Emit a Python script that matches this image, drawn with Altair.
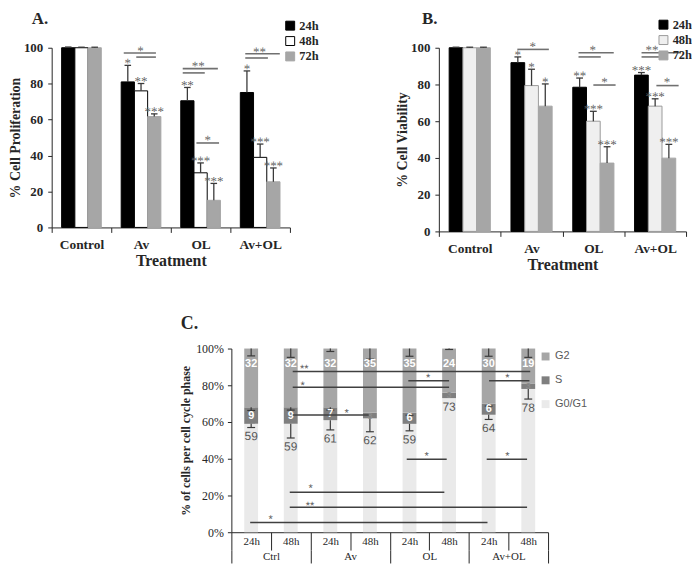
import json
import altair as alt
import pandas as pd

SERIF = "Liberation Serif"
SANS = "Liberation Sans"
INK = "#262626"

# ---------------- Panels A and B ----------------
groups = ["Control", "Av", "OL", "Av+OL"]
times = ["24h", "48h", "72h"]

prolif_mean = [100, 100, 100, 81.0, 76.0, 61.7, 70.5, 30.4, 15.1, 75.1, 39.0, 25.4]
prolif_err = [0.4, 0.3, 0.3, 9.2, 4.1, 1.5, 7.4, 5.5, 9.4, 12.0, 7.4, 7.7]
prolif_stars = ["", "", "", "*", "**", "***", "**", "***", "***", "*", "***", "***"]
prolif_line_x1 = [0.71, 0.92, 1.70, 1.70, 1.93, 2.75, 2.75]
prolif_line_x2 = [1.25, 1.25, 2.29, 2.07, 2.31, 3.33, 3.13]
prolif_line_y = [97.1, 94.8, 88.4, 86.0, 47.0, 96.7, 94.3]
prolif_sig_x = [0.99, 1.96, 2.12, 2.99]
prolif_sig_y = [100.0, 91.5, 50.3, 99.4]
prolif_sig_text = ["*", "**", "*", "**"]

viab_mean = [100, 100, 100, 91.9, 79.4, 68.2, 78.5, 60.0, 37.2, 85.1, 68.2, 39.9]
viab_err = [0.3, 0.3, 0.3, 3.1, 8.9, 12.1, 5.0, 5.4, 8.9, 1.4, 4.0, 7.5]
viab_stars = ["", "", "", "*", "*", "*", "**", "***", "***", "***", "***", "***"]
viab_line_x1 = [0.77, 1.76, 1.76, 2.00, 2.78, 2.78, 3.02]
viab_line_x2 = [1.28, 2.33, 2.12, 2.36, 3.42, 3.17, 3.38]
viab_line_y = [99.1, 97.3, 95.0, 79.7, 97.3, 95.0, 79.4]
viab_sig_x = [1.02, 1.99, 2.18, 2.95, 3.19]
viab_sig_y = [102.3, 100.4, 82.9, 100.4, 82.9]
viab_sig_text = ["*", "*", "*", "**", "*"]

# ---------------- Panel C ----------------
cc_groups = ["Ctrl", "Av", "OL", "Av+OL"]
cc_times = ["24h", "48h"]
phases = ["G0/G1", "S", "G2"]
g0g1_pct = [59, 59, 61, 62, 59, 73, 64, 78]
s_pct = [9, 9, 7, 3, 6, 3, 6, 3]
g2_pct = [32, 32, 32, 35, 35, 24, 30, 19]
g0g1_err = [2.0, 7.7, 5.3, 7.3, 3.8, 0.0, 2.6, 5.5]
s_err = [1.7, 1.5, 1.5, 0.0, 1.3, 0.0, 1.3, 0.0]
g2_err = [4.0, 4.8, 1.6, 5.8, 4.2, 0.5, 4.2, 4.8]
cc_line_x1 = [1.05, 1.05, 3.97, 6.01, 1.05, 3.93, 5.95, 0.975, 0.975, -0.025]
cc_line_x2 = [7.05, 5.00, 5.00, 7.03, 2.97, 4.94, 6.97, 4.88, 6.97, 5.97]
cc_line_y = [87.5, 78.9, 82.5, 82.5, 63.8, 39.7, 39.7, 21.7, 13.6, 5.3]
cc_sig_x = [1.34, 1.30, 4.47, 6.47, 2.41, 4.43, 6.47, 1.50, 1.49, 0.49]
cc_sig_y = [90.5, 81.3, 85.5, 85.5, 66.3, 42.9, 42.9, 25.4, 15.9, 8.5]
cc_sig_text = ["**", "*", "*", "*", "*", "*", "*", "*", "**", "*"]

Y_TICKS = [0, 20, 40, 60, 80, 100]
STAR = "#5e5e5e"
TILT = 0.2  # a hair of rotation gives greyscale text smoothing


def bar_panel(values, errs, stars, fills, strokes, lx1, lx2, ly, sx, sy, st,
              ytitle, title, width, height, legend_x, legend_y, title_dx, title_off):
    df = pd.DataFrame({
        "group": [g for g in groups for _ in times],
        "time": [t for _ in groups for t in times],
        "gi": [i for i in range(len(groups)) for _ in times],
        "ti": [j for _ in groups for j in range(len(times))],
        "value": values, "err": errs, "star": stars,
    })
    xscale = alt.Scale(domain=[-0.5, len(groups) - 0.5], nice=False, zero=False)
    yscale = alt.Scale(domain=[0, 100], nice=False)
    label_expr = "datum.value < 0 ? '' : %s[round(datum.value - 0.5)]" % json.dumps(groups)
    xvals = [i - 0.5 for i in range(len(groups) + 1)]
    xaxis = alt.Axis(values=xvals, tickCount=len(xvals), labelExpr=label_expr,
                     labelOffset=-width / 8, labelFlush=False, labelOverlap=False,
                     title="Treatment", titleFont=SERIF, titleFontSize=16,
                     titleFontWeight="bold", titleColor=INK, titlePadding=2,
                     labelFont=SERIF, labelFontSize=13.5, labelFontWeight="bold",
                     labelColor=INK, labelPadding=5, tickSize=5, tickColor=INK,
                     domainColor=INK, grid=False)
    yaxis = alt.Axis(values=Y_TICKS, tickCount=len(Y_TICKS), title=ytitle,
                     titleFont=SERIF, titleFontSize=14, titleFontWeight="bold",
                     titleColor=INK, titlePadding=1, labelFont=SERIF,
                     labelFontSize=13, labelFontWeight="bold", labelColor=INK,
                     labelPadding=5, tickSize=4, tickColor=INK, domainColor=INK,
                     labelOverlap=False, grid=False)
    legend = alt.Legend(title=None, orient="none", legendX=legend_x, legendY=legend_y,
                        direction="vertical", symbolType="square", symbolSize=81,
                        symbolStrokeWidth=1, labelFont=SERIF, labelFontSize=12.5,
                        labelFontWeight="bold", labelColor=INK, rowPadding=1.5,
                        padding=0, labelOffset=3)
    base = alt.Chart(df).transform_calculate(
        pos="datum.gi + (datum.ti - 1) * 0.222"
    ).transform_calculate(
        left="datum.pos - 0.111", right="datum.pos + 0.111",
        top="datum.value + datum.err",
        capl="datum.pos - 0.055", capr="datum.pos + 0.055",
    )
    bars = base.mark_bar(strokeWidth=1, clip=False).encode(
        x=alt.X("left:Q", scale=xscale, axis=xaxis),
        x2="right:Q",
        y=alt.Y("value:Q", scale=yscale, axis=yaxis),
        y2=alt.datum(0),
        fill=alt.Fill("time:N", scale=alt.Scale(domain=times, range=fills), legend=legend),
        stroke=alt.Stroke("time:N", scale=alt.Scale(domain=times, range=strokes), legend=legend),
    )
    stem = base.mark_rule(color="#3a3a3a", strokeWidth=1.3, clip=False).encode(
        x=alt.X("pos:Q", scale=xscale), y=alt.Y("value:Q", scale=yscale), y2="top:Q")
    cap = base.mark_rule(color="#3a3a3a", strokeWidth=1.3, clip=False).encode(
        x=alt.X("capl:Q", scale=xscale), x2="capr:Q", y=alt.Y("top:Q", scale=yscale))
    startxt = base.mark_text(font=SERIF, fontSize=13, color=STAR, angle=TILT,
                             baseline="middle", dy=-2, clip=False).encode(
        x=alt.X("pos:Q", scale=xscale), y=alt.Y("top:Q", scale=yscale), text="star:N")
    ldf = pd.DataFrame({"x1": lx1, "x2": lx2, "y": ly})
    lines = alt.Chart(ldf).mark_rule(color="#707070", strokeWidth=1.6, clip=False).encode(
        x=alt.X("x1:Q", scale=xscale), x2="x2:Q", y=alt.Y("y:Q", scale=yscale))
    sdf = pd.DataFrame({"x": sx, "y": sy, "t": st})
    sigs = alt.Chart(sdf).mark_text(font=SERIF, fontSize=13, color=STAR, angle=TILT,
                                    baseline="middle", dy=3.2, clip=False).encode(
        x=alt.X("x:Q", scale=xscale), y=alt.Y("y:Q", scale=yscale), text="t:N")
    return alt.layer(bars, stem, cap, startxt, lines, sigs).properties(
        width=width, height=height,
        title=alt.TitleParams(title, anchor="start", frame="group", font=SERIF,
                              fontSize=17, fontWeight="bold", color=INK,
                              dx=title_dx, offset=title_off))


panel_a = bar_panel(prolif_mean, prolif_err, prolif_stars,
                    ["#000000", "#ffffff", "#a6a6a6"], ["#000000", "#000000", "#a6a6a6"],
                    prolif_line_x1, prolif_line_x2, prolif_line_y,
                    prolif_sig_x, prolif_sig_y, prolif_sig_text,
                    "% Cell Proliferation", "A.", 240, 181, 234, -28.5, -20, -8.5)
panel_b = bar_panel(viab_mean, viab_err, viab_stars,
                    ["#000000", "#efefef", "#a6a6a6"], ["#000000", "#9a9a9a", "#a6a6a6"],
                    viab_line_x1, viab_line_x2, viab_line_y,
                    viab_sig_x, viab_sig_y, viab_sig_text,
                    "% Cell Viability", "B.", 249, 185, 220, -29.5, -17, -9.5)

# ---------------- Panel C chart ----------------
rows = []
for i in range(len(g0g1_pct)):
    vals = [g0g1_pct[i], s_pct[i], g2_pct[i]]
    errs = [g0g1_err[i], s_err[i], g2_err[i]]
    for p, (ph, v, e) in enumerate(zip(phases, vals, errs)):
        rows.append({"bi": i, "group": cc_groups[i // 2], "time": cc_times[i % 2],
                     "phase": ph, "po": p, "value": v, "err": e})
cdf = pd.DataFrame(rows)

CW, CH = 319, 185
nbar = len(g0g1_pct)
cx = alt.Scale(domain=[-0.5, nbar - 0.5], nice=False, zero=False)
cy = alt.Scale(domain=[0, 100], nice=False)
time_expr = "datum.value < 0 ? '' : %s[round(datum.value - 0.5) %% 2]" % json.dumps(cc_times)
cxvals = [i - 0.5 for i in range(nbar + 1)]
cx_axis = alt.Axis(values=cxvals, tickCount=len(cxvals), labelExpr=time_expr,
                   labelOffset=-CW / nbar / 2, labelFlush=False, labelOverlap=False,
                   labelBaseline="middle", labelPadding=-9, tickSize=18,
                   tickColor=INK, domainColor=INK, labelFont=SERIF, labelFontSize=11,
                   labelColor=INK, title=None, grid=False)
cy_axis = alt.Axis(values=Y_TICKS, tickCount=len(Y_TICKS), labelExpr="datum.value + '%'",
                   title="% of cells per cell cycle phase", titleFont=SERIF,
                   titleFontSize=12, titleFontWeight="bold", titleColor=INK,
                   titlePadding=3, labelFont=SERIF, labelFontSize=12, labelColor=INK,
                   labelPadding=4, tickSize=4, tickColor=INK, domainColor=INK,
                   labelOverlap=False, grid=False)
c_legend = alt.Legend(title=None, orient="none", legendX=311, legendY=2.5,
                      direction="vertical", symbolType="square", symbolSize=64,
                      symbolStrokeWidth=0, labelFont=SANS, labelFontSize=11,
                      labelColor="#595959", rowPadding=12, padding=0, labelOffset=4)

cbase = alt.Chart(cdf).transform_stack(
    stack="value", groupby=["bi"], as_=["y0", "y1"],
    sort=[alt.SortField("po", order="ascending")]
).transform_calculate(
    left="datum.bi - 0.175", right="datum.bi + 0.175",
    mid="(datum.y0 + datum.y1) / 2", errb="datum.y1 - datum.err",
    capl="datum.bi - 0.1", capr="datum.bi + 0.1",
    g2lab="datum.y1 - 8.5", g0lab="datum.y1 - datum.err - 4.7",
)
cbars = cbase.mark_bar(clip=False).encode(
    x=alt.X("left:Q", scale=cx, axis=cx_axis), x2="right:Q",
    y=alt.Y("y0:Q", scale=cy, axis=cy_axis), y2="y1:Q",
    fill=alt.Fill("phase:N", scale=alt.Scale(domain=["G2", "S", "G0/G1"],
                                             range=["#a6a6a6", "#7f7f7f", "#eaeaea"]),
                  legend=c_legend),
)
cerr = cbase.transform_filter("datum.err > 0")
cstem = cerr.mark_rule(color="#3a3a3a", strokeWidth=1.2, clip=False).encode(
    x=alt.X("bi:Q", scale=cx), y=alt.Y("y1:Q", scale=cy), y2="errb:Q")
ccap = cerr.mark_rule(color="#3a3a3a", strokeWidth=1.2, clip=False).encode(
    x=alt.X("capl:Q", scale=cx), x2="capr:Q", y=alt.Y("errb:Q", scale=cy))
g2_text = cbase.transform_filter("datum.phase == 'G2'").mark_text(
    font=SANS, fontSize=11, fontWeight="bold", color="#ffffff", baseline="middle").encode(
    x=alt.X("bi:Q", scale=cx), y=alt.Y("g2lab:Q", scale=cy), text=alt.Text("value:Q", format="d"))
s_text = cbase.transform_filter("datum.phase == 'S' && datum.value > 3").mark_text(
    font=SANS, fontSize=11, fontWeight="bold", color="#ffffff", baseline="middle").encode(
    x=alt.X("bi:Q", scale=cx), y=alt.Y("mid:Q", scale=cy), text=alt.Text("value:Q", format="d"))
s_small = cbase.transform_filter("datum.phase == 'S' && datum.value <= 3").mark_text(
    font=SANS, fontSize=9, fontWeight="bold", color="#8c8c8c", baseline="middle").encode(
    x=alt.X("bi:Q", scale=cx), y=alt.Y("mid:Q", scale=cy), text=alt.Text("value:Q", format="d"))
g0_text = cbase.transform_filter("datum.phase == 'G0/G1'").mark_text(
    font=SANS, fontSize=12, color="#595959", angle=TILT, baseline="middle").encode(
    x=alt.X("bi:Q", scale=cx), y=alt.Y("g0lab:Q", scale=cy), text=alt.Text("value:Q", format="d"))
cldf = pd.DataFrame({"x1": cc_line_x1, "x2": cc_line_x2, "y": cc_line_y})
clines = alt.Chart(cldf).mark_rule(color="#404040", strokeWidth=1.5, clip=False).encode(
    x=alt.X("x1:Q", scale=cx), x2="x2:Q", y=alt.Y("y:Q", scale=cy))
csdf = pd.DataFrame({"x": cc_sig_x, "y": cc_sig_y, "t": cc_sig_text})
csigs = alt.Chart(csdf).mark_text(font=SANS, fontSize=11, color="#595959", angle=TILT,
                                   baseline="middle", dy=3.2, clip=False).encode(
    x=alt.X("x:Q", scale=cx), y=alt.Y("y:Q", scale=cy), text="t:N")

c_main = alt.layer(cbars, cstem, ccap, g2_text, s_text, s_small, g0_text, clines, csigs)

group_expr = "datum.value < 0 ? '' : %s[round(datum.value - 0.5)]" % json.dumps(cc_groups)
gxvals = [i - 0.5 for i in range(len(cc_groups) + 1)]
gdf = pd.DataFrame({"gi": list(range(len(cc_groups))), "group": cc_groups})
c_groups = alt.Chart(gdf).mark_point(opacity=0).encode(
    x=alt.X("gi:Q", scale=alt.Scale(domain=[-0.5, len(cc_groups) - 0.5], nice=False, zero=False),
            axis=alt.Axis(orient="bottom", offset=18, values=gxvals, tickCount=len(gxvals),
                          labelExpr=group_expr, labelOffset=-CW / len(cc_groups) / 2,
                          labelFlush=False, labelOverlap=False, labelBaseline="middle",
                          labelPadding=-6.5, tickSize=13, tickColor=INK, domain=False,
                          labelFont=SERIF, labelFontSize=11, labelColor=INK,
                          title=None, grid=False)),
)

panel_c = alt.layer(c_main, c_groups).resolve_scale(x="independent").properties(
    width=CW, height=CH,
    title=alt.TitleParams("C.", anchor="start", frame="group", font=SERIF, fontSize=18,
                          fontWeight="bold", color=INK, dx=-51, offset=10))

spacer = alt.Chart(pd.DataFrame({"s": [0]})).mark_point(opacity=0).encode(
    x=alt.value(0), y=alt.value(0)).properties(width=180.5, height=10)

top = alt.hconcat(panel_a, panel_b, spacing=150, bounds="flush").resolve_scale(
    fill="independent", stroke="independent")
bottom = alt.hconcat(spacer, panel_c, spacing=0, bounds="flush").resolve_scale(
    fill="independent")
chart = alt.vconcat(top, bottom, spacing=42).resolve_scale(
    fill="independent", stroke="independent").properties(
    padding={"left": 0, "top": 0, "right": 0, "bottom": 0}
).configure_view(stroke=None).configure_axis(labelOverlap=False)

chart.save("out.html", embed_options={"renderer": "svg", "actions": False})
